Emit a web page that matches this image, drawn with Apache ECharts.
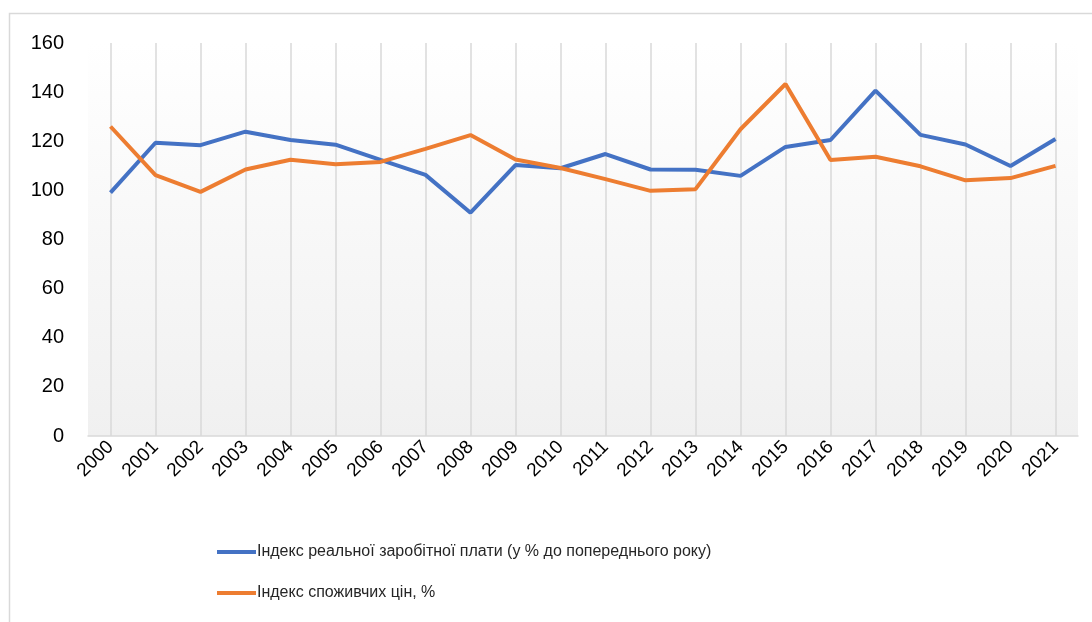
<!DOCTYPE html>
<html>
<head>
<meta charset="utf-8">
<script src="https://cdn.jsdelivr.net/npm/echarts@6/dist/echarts.min.js"></script>
<style>
  html, body { margin: 0; padding: 0; background: #fff; }
  #chart { width: 1092px; height: 622px; }
</style>
</head>
<body>
<div id="chart"></div>
<script>
// роки
const years = ['2000', '2001', '2002', '2003', '2004', '2005', '2006', '2007', '2008', '2009', '2010',
  '2011', '2012', '2013', '2014', '2015', '2016', '2017', '2018', '2019', '2020', '2021'];

// індекс реальної заробітної плати
const realWage = [99.1, 119.4, 118.4, 123.9, 120.5, 118.6, 112.4, 106.3, 90.9, 110.3, 109.0,
  114.8, 108.5, 108.4, 105.9, 117.7, 120.5, 140.6, 122.6, 118.7, 109.9, 120.9];

// індекс споживчих цін
const cpi = [126.0, 106.2, 99.4, 108.5, 112.5, 110.6, 111.6, 116.9, 122.5, 112.6, 109.1,
  104.6, 99.8, 100.5, 124.9, 143.3, 112.4, 113.7, 109.8, 104.1, 105.0, 110.0];

const seriesNames = [
  'Індекс реальної заробітної плати (у % до попереднього року)',
  'Індекс споживчих цін, %'
];

const font = '"Liberation Sans", Arial, sans-serif';

const chart = echarts.init(document.getElementById('chart'));

chart.setOption({
  animation: false,
  backgroundColor: '#fff',
  graphic: [{
    type: 'rect',
    shape: { x: 9.5, y: 13.5, width: 1200, height: 700 },
    style: { fill: 'none', stroke: '#d9d9d9', lineWidth: 1.5 },
    silent: true
  }],
  grid: {
    left: 88, right: 14, top: 43, bottom: 186,
    show: true,
    borderWidth: 0,
    backgroundColor: {
      type: 'linear', x: 0, y: 0, x2: 0, y2: 1,
      colorStops: [
        { offset: 0, color: '#ffffff' },
        { offset: 1, color: '#f0f0f0' }
      ]
    }
  },
  legend: {
    orient: 'vertical',
    left: 212,
    top: 539,
    itemGap: 25,
    itemWidth: 39,
    itemHeight: 4,
    icon: 'rect',
    textStyle: { fontFamily: font, fontSize: 16, color: '#262626', padding: [0, 0, 0, -4] },
    data: seriesNames
  },
  xAxis: {
    type: 'category',
    data: years,
    boundaryGap: true,
    axisLine: { lineStyle: { color: '#d9d9d9', width: 1.5 } },
    axisTick: { show: false },
    axisLabel: { rotate: 45, fontFamily: font, fontSize: 19, color: '#000', margin: 8, interval: 0 },
    splitLine: { show: true, alignWithLabel: true, lineStyle: { color: '#d9d9d9', width: 1.5 } }
  },
  yAxis: {
    type: 'value',
    min: 0,
    max: 160,
    interval: 20,
    axisLine: { show: false },
    axisTick: { show: false },
    axisLabel: { fontFamily: font, fontSize: 20, color: '#000', margin: 24 },
    splitLine: { show: false }
  },
  series: [
    {
      name: seriesNames[0],
      type: 'line',
      data: realWage,
      symbol: 'none',
      lineStyle: { color: '#4472c4', width: 4 },
      itemStyle: { color: '#4472c4' }
    },
    {
      name: seriesNames[1],
      type: 'line',
      data: cpi,
      symbol: 'none',
      lineStyle: { color: '#ed7d31', width: 4 },
      itemStyle: { color: '#ed7d31' }
    }
  ]
});
</script>
</body>
</html>
